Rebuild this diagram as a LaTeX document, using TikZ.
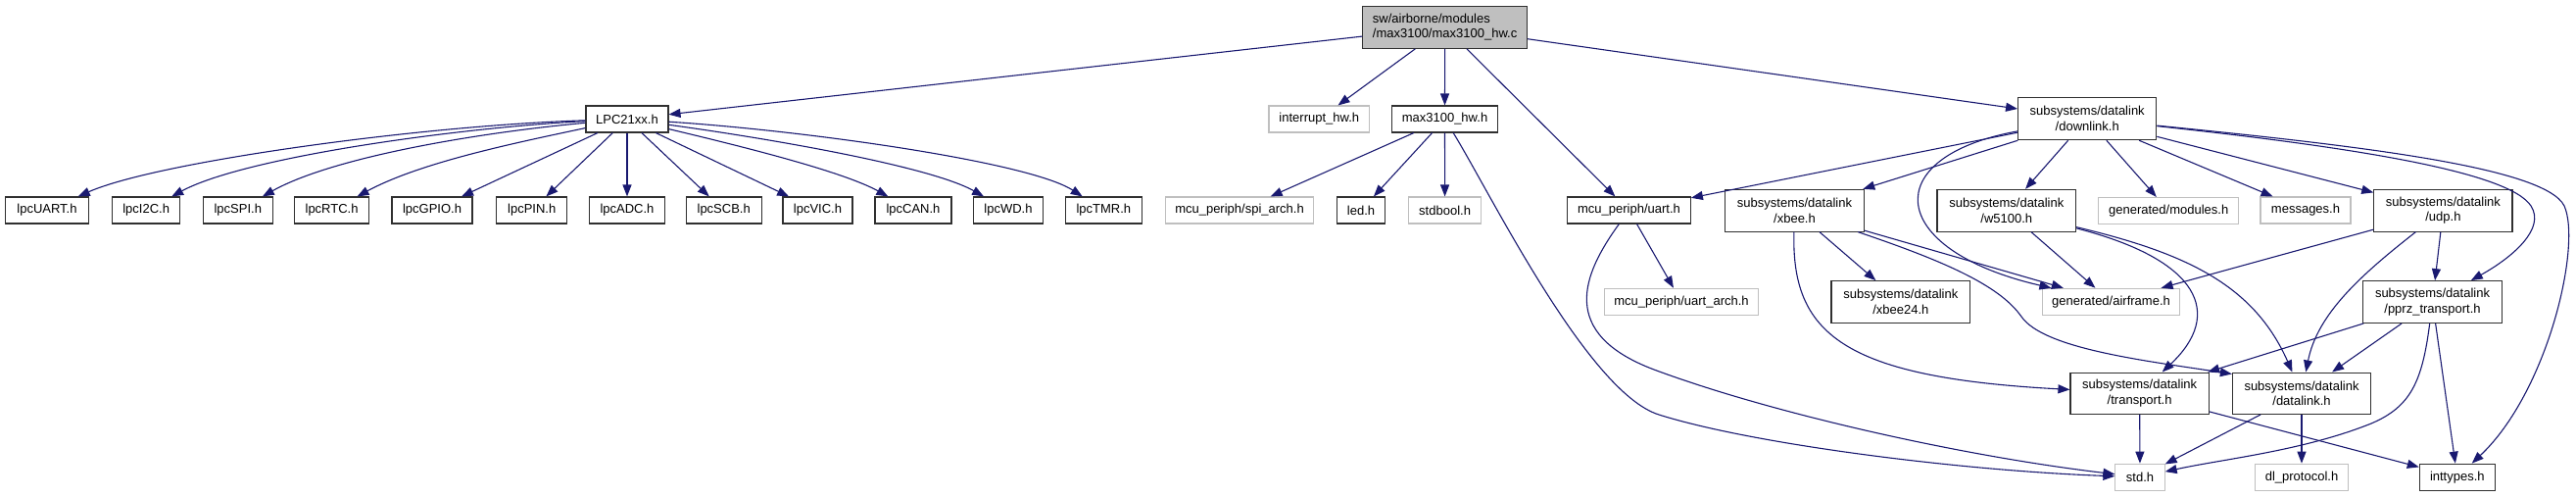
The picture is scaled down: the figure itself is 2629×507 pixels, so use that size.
\documentclass[tikz,border=0pt]{standalone}
\usepackage{fontspec}
\setmainfont{Liberation Sans}
\usetikzlibrary{arrows.meta}
\definecolor{edgeblue}{HTML}{191970}
\definecolor{ugray}{HTML}{BFBFBF}
\definecolor{bord}{HTML}{303030}
\begin{document}
\begin{tikzpicture}[x=1pt,y=-1pt,
  box/.style={draw=bord,fill=white,line width=1.1pt,inner sep=0pt,
    font=\fontsize{13}{15.5}\selectfont,align=center},
  doc/.style={box},
  undoc/.style={box,draw=ugray},
  root/.style={box,fill=ugray,align=left},
  wd/.style={minimum width=#1pt},
  one/.style={minimum height=27pt},
  two/.style={minimum height=42.7pt},
  dep/.style={draw=edgeblue,line width=1.1pt,-{Triangle[length=12pt,width=9pt]}}]
\useasboundingbox (0,0) rectangle (2629,507);

% ---- nodes ----
\node[root,wd=167.6,minimum height=43.3pt] (root) at (1474.6,27.7) {sw/airborne/modules\\/max3100/max3100\_hw.c};
\node[doc,wd=84,one] (LPC) at (640,121.5) {LPC21xx.h};
\node[doc,wd=85.5,one] (lpcUART) at (48,214.5) {lpcUART.h};
\node[doc,wd=69,one] (lpcI2C) at (149.2,214.5) {lpcI2C.h};
\node[doc,wd=71.2,one] (lpcSPI) at (242.8,214.5) {lpcSPI.h};
\node[doc,wd=75.7,one] (lpcRTC) at (338.6,214.5) {lpcRTC.h};
\node[doc,wd=82,one] (lpcGPIO) at (441,214.5) {lpcGPIO.h};
\node[doc,wd=71.8,one] (lpcPIN) at (542.7,214.5) {lpcPIN.h};
\node[doc,wd=77,one] (lpcADC) at (640,214.5) {lpcADC.h};
\node[doc,wd=77,one] (lpcSCB) at (738.7,214.5) {lpcSCB.h};
\node[doc,wd=71,one] (lpcVIC) at (834.5,214.5) {lpcVIC.h};
\node[doc,wd=78,one] (lpcCAN) at (932,214.5) {lpcCAN.h};
\node[doc,wd=71,one] (lpcWD) at (1029,214.5) {lpcWD.h};
\node[doc,wd=77.5,one] (lpcTMR) at (1126.4,214.5) {lpcTMR.h};
\node[undoc,wd=102.6,one] (interrupt) at (1346.3,121.5) {interrupt\_hw.h};
\node[doc,wd=108,one] (max) at (1474.5,121.5) {max3100\_hw.h};
\node[undoc,wd=151.5,one] (spi) at (1265,214.5) {mcu\_periph/spi\_arch.h};
\node[doc,wd=49.3,one] (led) at (1389,214.5) {led.h};
\node[undoc,wd=74.6,one] (stdbool) at (1474.6,214.5) {stdbool.h};
\node[doc,wd=125.7,one] (uart) at (1662.5,214.5) {mcu\_periph/uart.h};
\node[undoc,wd=157.6,one] (uartarch) at (1716,307.8) {mcu\_periph/uart\_arch.h};
\node[doc,wd=141.2,minimum height=43.4pt] (downlink) at (2130.2,121) {subsystems/datalink\\/downlink.h};
\node[doc,wd=141.6,two] (xbee) at (1831.5,214.7) {subsystems/datalink\\/xbee.h};
\node[doc,wd=141.6,two] (w5100) at (2047.8,214.7) {subsystems/datalink\\/w5100.h};
\node[undoc,wd=142.7,one] (modules) at (2213.2,215) {generated/modules.h};
\node[undoc,wd=92,one] (messages) at (2353,214.5) {messages.h};
\node[doc,wd=141.2,two] (udp) at (2493.4,214.7) {subsystems/datalink\\/udp.h};
\node[doc,wd=141.6,two] (xbee24) at (1939.8,308) {subsystems/datalink\\/xbee24.h};
\node[undoc,wd=140,one] (airframe) at (2154.5,307.8) {generated/airframe.h};
\node[doc,wd=141.2,two] (pprz) at (2482.5,308) {subsystems/datalink\\/pprz\_transport.h};
\node[doc,wd=141.3,minimum height=42.3pt] (transport) at (2183.6,401.2) {subsystems/datalink\\/transport.h};
\node[doc,wd=141.2,minimum height=42.3pt] (datalink) at (2349,401.2) {subsystems/datalink\\/datalink.h};
\node[undoc,wd=50.2,one] (std) at (2184,486.7) {std.h};
\node[undoc,wd=94.7,one] (dlproto) at (2349,486.7) {dl\_protocol.h};
\node[doc,wd=77,one] (inttypes) at (2507.8,486.7) {inttypes.h};

% ---- edges from root ----
\draw[dep] (root) -- (LPC);
\draw[dep] (root) -- (interrupt);
\draw[dep] (root) -- (max);
\draw[dep] (root) -- (uart);
\draw[dep] (root) -- (downlink);

% ---- edges from LPC21xx.h ----
\draw[dep] (LPC) .. controls (430,128) and (160,165) .. (lpcUART);
\draw[dep] (LPC) .. controls (470,130) and (250,160) .. (lpcI2C);
\draw[dep] (LPC) .. controls (490,135) and (340,160) .. (lpcSPI);
\draw[dep] (LPC) .. controls (530,145) and (430,165) .. (lpcRTC);
\draw[dep] (LPC) -- (lpcGPIO);
\draw[dep] (LPC) -- (lpcPIN);
\draw[dep] (LPC) -- (lpcADC);
\draw[dep] (LPC) -- (lpcSCB);
\draw[dep] (LPC) -- (lpcVIC);
\draw[dep] (LPC) .. controls (760,150) and (860,175) .. (lpcCAN);
\draw[dep] (LPC) .. controls (790,142) and (950,170) .. (lpcWD);
\draw[dep] (LPC) .. controls (820,133) and (1050,165) .. (lpcTMR);

% ---- edges from max3100_hw.h ----
\draw[dep] (max) -- (spi);
\draw[dep] (max) -- (led);
\draw[dep] (max) -- (stdbool);
\draw[dep] (max) .. controls (1520,195) and (1620,400) .. (1693,423)
                 .. controls (1788,453) and (2000,480) .. (std);

% ---- edges from mcu_periph/uart.h ----
\draw[dep] (uart) -- (uartarch);
\draw[dep] (uart) .. controls (1615,280) and (1590,340) .. (1688,377)
                  .. controls (1806,421) and (2000,465) .. (std);

% ---- edges from downlink.h ----
\draw[dep] (downlink) -- (uart);
\draw[dep] (downlink) -- (xbee);
\draw[dep] (downlink) -- (w5100);
\draw[dep] (downlink) -- (modules);
\draw[dep] (downlink) -- (messages);
\draw[dep] (downlink) -- (udp);
\draw[dep] (downlink) .. controls (1915,160) and (1925,255) .. (airframe);
\draw[dep] (downlink) .. controls (2400,150) and (2560,175) .. (2583,210)
                      .. controls (2598,233) and (2565,262) .. (pprz);
\draw[dep] (downlink) .. controls (2400,148) and (2597,170) .. (2617,210)
                      .. controls (2635,250) and (2600,400) .. (inttypes);

% ---- edges from xbee.h ----
\draw[dep] (xbee) -- (xbee24);
\draw[dep] (xbee) -- (airframe);
\draw[dep] (xbee) .. controls (1828,340) and (1880,385) .. (transport);
\draw[dep] (xbee) .. controls (1980,265) and (2040,290) .. (2063,323)
                  .. controls (2086,356) and (2190,368) .. ([yshift=-2pt]datalink.north west);

% ---- edges from w5100.h ----
\draw[dep] (w5100) -- (airframe);
\draw[dep] (w5100) .. controls (2245,265) and (2270,320) .. (transport);
\draw[dep] (w5100) .. controls (2230,258) and (2300,290) .. (datalink);

% ---- edges from udp.h ----
\draw[dep] (udp) -- (airframe);
\draw[dep] (udp) -- (pprz);
\draw[dep] (udp) .. controls (2410,280) and (2365,320) .. (datalink);

% ---- edges from pprz_transport.h ----
\draw[dep] (pprz) -- (transport);
\draw[dep] (pprz) -- (datalink);
\draw[dep] (pprz) .. controls (2472,390) and (2460,415) .. (2420,432)
                  .. controls (2350,460) and (2270,468) .. (std);
\draw[dep] (pprz) -- (inttypes);

% ---- edges from transport.h / datalink.h ----
\draw[dep] (transport) -- (std);
\draw[dep] (transport) -- (inttypes);
\draw[dep] (datalink) -- (std);
\draw[dep] (datalink) -- (dlproto);
\end{tikzpicture}
\end{document}
